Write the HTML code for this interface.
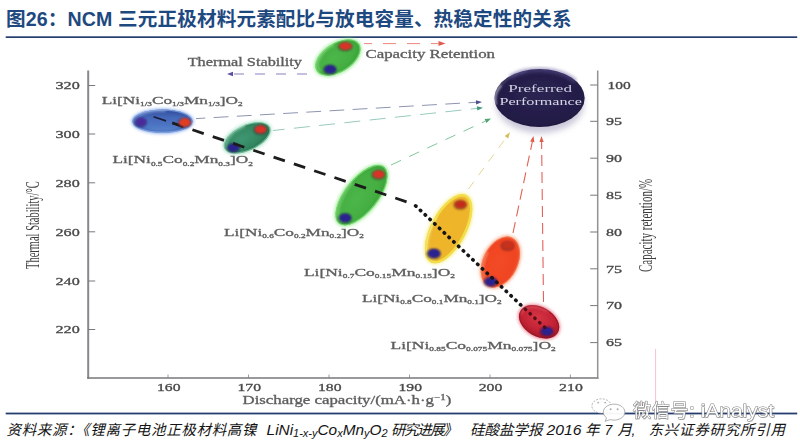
<!DOCTYPE html>
<html lang="zh"><head><meta charset="utf-8"><title>图26：NCM 三元正极材料元素配比与放电容量、热稳定性的关系</title>
<style>
html,body{margin:0;padding:0;background:#fff;}
body{width:800px;height:447px;overflow:hidden;font-family:"Liberation Sans",sans-serif;}
svg{display:block;}
.ser{font-family:"Liberation Serif",serif;}
.san{font-family:"Liberation Sans",sans-serif;}
</style></head><body>
<svg width="800" height="447" viewBox="0 0 800 447">
<defs>
<filter id="soft" x="-5%" y="-5%" width="110%" height="110%"><feGaussianBlur stdDeviation="0.65"/></filter>
<filter id="glow" x="-30%" y="-30%" width="160%" height="160%"><feGaussianBlur stdDeviation="1.7"/></filter>
<filter id="b05" x="-10%" y="-10%" width="120%" height="120%"><feGaussianBlur stdDeviation="0.35"/></filter>
<filter id="tb" x="-2%" y="-2%" width="104%" height="104%"><feGaussianBlur stdDeviation="0.45"/></filter>
<filter id="glow3" x="-30%" y="-40%" width="160%" height="180%"><feGaussianBlur stdDeviation="3.2"/></filter>
<filter id="b1" x="-30%" y="-30%" width="160%" height="160%"><feGaussianBlur stdDeviation="1"/></filter>
<linearGradient id="gBlue" x1="0" y1="0" x2="0" y2="1"><stop offset="0" stop-color="#34509e"/><stop offset="0.35" stop-color="#4468b8"/><stop offset="0.75" stop-color="#4f78c6"/><stop offset="1" stop-color="#6a94d8"/></linearGradient>
<radialGradient id="gDG" cx="40%" cy="45%" r="65%"><stop offset="0" stop-color="#3f9672"/><stop offset="0.6" stop-color="#338862"/><stop offset="1" stop-color="#27704e"/></radialGradient>
<radialGradient id="gG" cx="42%" cy="45%" r="65%"><stop offset="0" stop-color="#4cb648"/><stop offset="0.65" stop-color="#44ae42"/><stop offset="1" stop-color="#379e38"/></radialGradient>
<radialGradient id="gY" cx="45%" cy="45%" r="65%"><stop offset="0" stop-color="#f0b62a"/><stop offset="0.7" stop-color="#eeb42a"/><stop offset="1" stop-color="#ecc83c"/></radialGradient>
<radialGradient id="gO" cx="45%" cy="45%" r="65%"><stop offset="0" stop-color="#f24a26"/><stop offset="0.7" stop-color="#f04422"/><stop offset="1" stop-color="#ee5a34"/></radialGradient>
<radialGradient id="gR" cx="42%" cy="40%" r="65%"><stop offset="0" stop-color="#d43444"/><stop offset="0.6" stop-color="#c42434"/><stop offset="1" stop-color="#a01426"/></radialGradient>
<radialGradient id="gN" cx="50%" cy="45%" r="60%"><stop offset="0" stop-color="#2b2452"/><stop offset="0.8" stop-color="#231c47"/><stop offset="1" stop-color="#1b153a"/></radialGradient>
</defs>
<rect width="800" height="447" fill="#fff"/>

<text x="6" y="26" font-size="19.6" font-weight="bold" fill="#1e4980" textLength="565.5" style='font-family:"Liberation Sans","Noto Sans CJK SC",sans-serif'>图26：NCM 三元正极材料元素配比与放电容量、热稳定性的关系</text>
<rect x="5.7" y="36.3" width="791.5" height="1.7" fill="#263e6e"/>
<g filter="url(#soft)">
<path d="M88.2 70.5V378.8" fill="none" stroke="#88888c" stroke-width="2"/>
<path d="M87.2 378.1H598.5" fill="none" stroke="#77777b" stroke-width="1.5"/>
<path d="M597.7 70.5V378.8" fill="none" stroke="#929296" stroke-width="1.5"/>
<path d="M88.2 85.5h7" stroke="#79797d" stroke-width="1"/>
<path d="M88.2 134h7" stroke="#79797d" stroke-width="1"/>
<path d="M88.2 182.8h7" stroke="#79797d" stroke-width="1"/>
<path d="M88.2 231.8h7" stroke="#79797d" stroke-width="1"/>
<path d="M88.2 281h7" stroke="#79797d" stroke-width="1"/>
<path d="M88.2 329.5h7" stroke="#79797d" stroke-width="1"/>
<path d="M597.7 85h-7.5" stroke="#79797d" stroke-width="1"/>
<path d="M597.7 121.3h-7.5" stroke="#79797d" stroke-width="1"/>
<path d="M597.7 158.2h-7.5" stroke="#79797d" stroke-width="1"/>
<path d="M597.7 195.2h-7.5" stroke="#79797d" stroke-width="1"/>
<path d="M597.7 232h-7.5" stroke="#79797d" stroke-width="1"/>
<path d="M597.7 268.8h-7.5" stroke="#79797d" stroke-width="1"/>
<path d="M597.7 305.6h-7.5" stroke="#79797d" stroke-width="1"/>
<path d="M597.7 342.6h-7.5" stroke="#79797d" stroke-width="1"/>
<path d="M168 378.1v-3.6" stroke="#79797d" stroke-width="0.9" opacity="0.8"/>
<path d="M248.5 378.1v-3.6" stroke="#79797d" stroke-width="0.9" opacity="0.8"/>
<path d="M329 378.1v-3.6" stroke="#79797d" stroke-width="0.9" opacity="0.8"/>
<path d="M409.5 378.1v-3.6" stroke="#79797d" stroke-width="0.9" opacity="0.8"/>
<path d="M490 378.1v-3.6" stroke="#79797d" stroke-width="0.9" opacity="0.8"/>
<path d="M570.4 378.1v-3.6" stroke="#79797d" stroke-width="0.9" opacity="0.8"/>
<g filter="url(#tb)" style='font-family:"Liberation Serif",serif'>
<g fill="#484848" stroke="#484848" stroke-width="0.3" font-size="11">
<text x="55.5" y="89.2" textLength="24.2" lengthAdjust="spacingAndGlyphs">320</text>
<text x="55.5" y="137.7" textLength="24.2" lengthAdjust="spacingAndGlyphs">300</text>
<text x="55.5" y="186.5" textLength="24.2" lengthAdjust="spacingAndGlyphs">280</text>
<text x="55.5" y="235.5" textLength="24.2" lengthAdjust="spacingAndGlyphs">260</text>
<text x="55.5" y="284.7" textLength="24.2" lengthAdjust="spacingAndGlyphs">240</text>
<text x="55.5" y="333.2" textLength="24.2" lengthAdjust="spacingAndGlyphs">220</text>
<text x="607.6" y="88.7" textLength="23.2" lengthAdjust="spacingAndGlyphs">100</text>
<text x="606" y="125" textLength="16" lengthAdjust="spacingAndGlyphs">95</text>
<text x="606" y="161.9" textLength="16" lengthAdjust="spacingAndGlyphs">90</text>
<text x="606" y="198.9" textLength="16" lengthAdjust="spacingAndGlyphs">85</text>
<text x="606" y="235.7" textLength="16" lengthAdjust="spacingAndGlyphs">80</text>
<text x="606" y="272.5" textLength="16" lengthAdjust="spacingAndGlyphs">75</text>
<text x="606" y="309.3" textLength="16" lengthAdjust="spacingAndGlyphs">70</text>
<text x="606" y="346.3" textLength="16" lengthAdjust="spacingAndGlyphs">65</text>
<text x="157" y="390.6" textLength="23.5" lengthAdjust="spacingAndGlyphs">160</text>
<text x="237.5" y="390.6" textLength="23.5" lengthAdjust="spacingAndGlyphs">170</text>
<text x="318" y="390.6" textLength="23.5" lengthAdjust="spacingAndGlyphs">180</text>
<text x="398.5" y="390.6" textLength="23.5" lengthAdjust="spacingAndGlyphs">190</text>
<text x="478.7" y="390.6" textLength="23.7" lengthAdjust="spacingAndGlyphs">200</text>
<text x="559.1" y="390.6" textLength="23.7" lengthAdjust="spacingAndGlyphs">210</text>
</g>
<text x="242.5" y="403.8" font-size="11.5" fill="#5e5e5e" stroke="#5e5e5e" stroke-width="0.3" textLength="208.8" lengthAdjust="spacingAndGlyphs">Discharge capacity/(mA·h·g<tspan dy="-4" font-size="7.5">−1</tspan><tspan dy="4">)</tspan></text>
<text transform="translate(38.8 224.9) rotate(-90) scale(0.8 1.4)" x="-55" y="0" font-size="13.4" fill="#3e3e3e" textLength="109.4" lengthAdjust="spacingAndGlyphs">Thermal Stability/°C</text>
<text transform="translate(651.7 225.5) rotate(-90) scale(0.822 1.4)" x="-56.6" y="0" font-size="13.4" fill="#3e3e3e" textLength="113.3" lengthAdjust="spacingAndGlyphs">Capacity retention/%</text>
<g fill="#5e5e5e" stroke="#5e5e5e" stroke-width="0.3">
<text x="187.7" y="66" font-size="11.5" textLength="114.3" lengthAdjust="spacingAndGlyphs">Thermal Stability</text>
<text x="365.5" y="58" font-size="11.5" textLength="129.5" lengthAdjust="spacingAndGlyphs">Capacity Retention</text>
<text x="101.7" y="103.6" font-size="11.2" textLength="141" lengthAdjust="spacingAndGlyphs">Li[Ni<tspan dy="2.5" font-size="6">1/3</tspan><tspan dy="-2.5">Co</tspan><tspan dy="2.5" font-size="6">1/3</tspan><tspan dy="-2.5">Mn</tspan><tspan dy="2.5" font-size="6">1/3</tspan><tspan dy="-2.5">]O</tspan><tspan dy="2.5" font-size="6">2</tspan></text>
<text x="112.5" y="163" font-size="11.2" textLength="140.3" lengthAdjust="spacingAndGlyphs">Li[Ni<tspan dy="2.5" font-size="6">0.5</tspan><tspan dy="-2.5">Co</tspan><tspan dy="2.5" font-size="6">0.2</tspan><tspan dy="-2.5">Mn</tspan><tspan dy="2.5" font-size="6">0.3</tspan><tspan dy="-2.5">]O</tspan><tspan dy="2.5" font-size="6">2</tspan></text>
<text x="223.9" y="235.8" font-size="11.2" textLength="140.1" lengthAdjust="spacingAndGlyphs">Li[Ni<tspan dy="2.5" font-size="6">0.6</tspan><tspan dy="-2.5">Co</tspan><tspan dy="2.5" font-size="6">0.2</tspan><tspan dy="-2.5">Mn</tspan><tspan dy="2.5" font-size="6">0.2</tspan><tspan dy="-2.5">]O</tspan><tspan dy="2.5" font-size="6">2</tspan></text>
<text x="303.9" y="275.5" font-size="11.2" textLength="151.1" lengthAdjust="spacingAndGlyphs">Li[Ni<tspan dy="2.5" font-size="6">0.7</tspan><tspan dy="-2.5">Co</tspan><tspan dy="2.5" font-size="6">0.15</tspan><tspan dy="-2.5">Mn</tspan><tspan dy="2.5" font-size="6">0.15</tspan><tspan dy="-2.5">]O</tspan><tspan dy="2.5" font-size="6">2</tspan></text>
<text x="361.9" y="301.5" font-size="11.2" textLength="139.8" lengthAdjust="spacingAndGlyphs">Li[Ni<tspan dy="2.5" font-size="6">0.8</tspan><tspan dy="-2.5">Co</tspan><tspan dy="2.5" font-size="6">0.1</tspan><tspan dy="-2.5">Mn</tspan><tspan dy="2.5" font-size="6">0.1</tspan><tspan dy="-2.5">]O</tspan><tspan dy="2.5" font-size="6">2</tspan></text>
<text x="390.5" y="348.8" font-size="11.2" textLength="165.2" lengthAdjust="spacingAndGlyphs">Li[Ni<tspan dy="2.5" font-size="6">0.85</tspan><tspan dy="-2.5">Co</tspan><tspan dy="2.5" font-size="6">0.075</tspan><tspan dy="-2.5">Mn</tspan><tspan dy="2.5" font-size="6">0.075</tspan><tspan dy="-2.5">]O</tspan><tspan dy="2.5" font-size="6">2</tspan></text>
</g>
</g>
<g opacity="0.9"><path d="M196.0 118.6L476.0 102.3" stroke="#8088a8" stroke-width="1.0" stroke-dasharray="14.8 8.4" stroke-dashoffset="5.5" fill="none"/><path d="M482.0 102.0L476.1 104.5L475.9 100.2Z" fill="#3c3c80"/></g>
<g opacity="0.9"><path d="M273.0 130.5L477.0 108.4" stroke="#8cc4b6" stroke-width="1.0" stroke-dasharray="16 9.4" stroke-dashoffset="4.4" fill="none"/><path d="M483.0 107.8L477.3 110.6L476.8 106.3Z" fill="#2c8c6c"/></g>
<g opacity="0.9"><path d="M391.0 165.0L485.6 121.0" stroke="#62b884" stroke-width="0.9" stroke-dasharray="11 9" stroke-dashoffset="0" fill="none"/><path d="M491.0 118.5L486.5 123.0L484.6 119.1Z" fill="#3a9c5e"/></g>
<g opacity="0.9"><path d="M468.5 189.0L506.5 137.1" stroke="#e2d288" stroke-width="1.0" stroke-dasharray="9 8" stroke-dashoffset="0" fill="none"/><path d="M510.0 132.3L508.2 138.4L504.7 135.9Z" fill="#d2b648"/></g>
<g opacity="0.9"><path d="M513.0 233.0L532.3 141.9" stroke="#e0503e" stroke-width="1.1" stroke-dasharray="11 6" stroke-dashoffset="0" fill="none"/><path d="M533.5 136.0L534.4 142.3L530.1 141.4Z" fill="#e04c36"/></g>
<g opacity="0.9"><path d="M543.5 302.0L541.6 142.0" stroke="#e0504a" stroke-width="1.1" stroke-dasharray="11 6" stroke-dashoffset="0" fill="none"/><path d="M541.5 136.0L543.7 142.0L539.4 142.0Z" fill="#e04c3c"/></g>
<g opacity="0.9"><path d="M307.0 74.0L233.0 74.0" stroke="#7a72b6" stroke-width="1.0" stroke-dasharray="10 11" stroke-dashoffset="0" fill="none"/><path d="M227.0 74.0L233.0 71.8L233.0 76.2Z" fill="#4a3a98"/></g>
<g opacity="0.9"><path d="M364.0 43.6L438.5 43.6" stroke="#e87a70" stroke-width="1.0" stroke-dasharray="13 11" stroke-dashoffset="5" fill="none"/><path d="M445.5 43.6L438.5 46.1L438.5 41.1Z" fill="#de4a3c"/></g>
<g transform="translate(162.5 121.2) rotate(0)"><ellipse rx="31.4" ry="13.0" fill="#7da4ea" opacity="0.65" filter="url(#glow)"/><ellipse rx="30" ry="11.6" fill="url(#gBlue)"/><ellipse rx="28.4" ry="10.0" fill="none" stroke="#2c4898" stroke-width="1.6" opacity="0.55" filter="url(#b1)"/><ellipse rx="29.5" ry="11.1" fill="none" stroke="#8fb4f0" stroke-width="1.2" opacity="0.6"/><path d="M-27.0 1.2A27.9 10.4 0 0 1 3.0 -10.4" fill="none" stroke="#b4cef6" stroke-width="1.3" opacity="0.7" stroke-linecap="round" filter="url(#b1)"/></g>
<g transform="translate(247.1 137.8) rotate(-25)"><ellipse rx="26.4" ry="14.0" fill="#8ad8b2" opacity="0.65" filter="url(#glow)"/><ellipse rx="25" ry="12.6" fill="url(#gDG)"/><ellipse rx="24.5" ry="12.1" fill="none" stroke="#96dcba" stroke-width="1.2" opacity="0.6"/><path d="M-22.5 1.3A23.2 11.3 0 0 1 2.5 -11.3" fill="none" stroke="#c0ead4" stroke-width="1.3" opacity="0.7" stroke-linecap="round" filter="url(#b1)"/></g>
<g transform="translate(361.5 195.2) rotate(-51.5)"><ellipse rx="37.6" ry="18.0" fill="#78e470" opacity="0.65" filter="url(#glow)"/><ellipse rx="36.2" ry="16.6" fill="url(#gG)"/><ellipse rx="35.7" ry="16.1" fill="none" stroke="#84e67a" stroke-width="1.2" opacity="0.65"/><path d="M-32.6 1.7A33.7 14.9 0 0 1 3.6 -14.9" fill="none" stroke="#b0f2a6" stroke-width="1.3" opacity="0.7" stroke-linecap="round" filter="url(#b1)"/></g>
<g transform="translate(448.6 228.7) rotate(-62)"><ellipse rx="39.3" ry="18.9" fill="#f4e660" opacity="0.65" filter="url(#glow)"/><ellipse rx="37.9" ry="17.5" fill="url(#gY)"/><ellipse rx="36.8" ry="16.400000000000002" fill="none" stroke="#f2e24c" stroke-width="2.4" opacity="0.9"/><path d="M-34.1 1.8A35.2 15.8 0 0 1 3.8 -15.8" fill="none" stroke="#faf2a8" stroke-width="1.3" opacity="0.7" stroke-linecap="round" filter="url(#b1)"/></g>
<g transform="translate(500.4 262) rotate(-64)"><ellipse rx="28.4" ry="18.799999999999997" fill="#f88e62" opacity="0.65" filter="url(#glow)"/><ellipse rx="27" ry="17.4" fill="url(#gO)"/><ellipse rx="26.5" ry="16.9" fill="none" stroke="#f89a72" stroke-width="1.2" opacity="0.5"/><path d="M-24.3 1.7A25.1 15.7 0 0 1 2.7 -15.7" fill="none" stroke="#fcc0a0" stroke-width="1.3" opacity="0.7" stroke-linecap="round" filter="url(#b1)"/></g>
<g transform="translate(539.1 321.8) rotate(30)"><ellipse rx="23.0" ry="16.0" fill="#e25a6a" opacity="0.65" filter="url(#glow)"/><ellipse rx="21.6" ry="14.6" fill="url(#gR)"/><ellipse rx="21.1" ry="14.1" fill="none" stroke="#8a0e20" stroke-width="1.2" opacity="0.55"/><path d="M-19.4 1.5A20.1 13.1 0 0 1 2.2 -13.1" fill="none" stroke="#ea7080" stroke-width="1.3" opacity="0.7" stroke-linecap="round" filter="url(#b1)"/></g>
<g transform="translate(337.9 57.5) rotate(-32)"><ellipse rx="26.4" ry="15.8" fill="#78e470" opacity="0.65" filter="url(#glow)"/><ellipse rx="25" ry="14.4" fill="url(#gG)"/><ellipse rx="24.5" ry="13.9" fill="none" stroke="#84e67a" stroke-width="1.2" opacity="0.65"/><path d="M-22.5 1.4A23.2 13.0 0 0 1 2.5 -13.0" fill="none" stroke="#b8f6ae" stroke-width="1.3" opacity="0.7" stroke-linecap="round" filter="url(#b1)"/></g>
<ellipse cx="540" cy="104" rx="44" ry="29" fill="#9c98b8" opacity="0.55" filter="url(#glow3)"/>
<ellipse cx="539.5" cy="98" rx="45.2" ry="29" fill="url(#gN)"/>
<path d="M495.6 104A44 28 0 0 1 500.5 86" fill="none" stroke="#eeecfa" stroke-width="2.2" opacity="0.65" stroke-linecap="round" filter="url(#b1)"/>
<path d="M500.5 86A44 28 0 0 1 526 71" fill="none" stroke="#b8b4d8" stroke-width="1.5" opacity="0.3" stroke-linecap="round" filter="url(#b1)"/>
<path d="M512 76A44 27.5 0 0 1 574 80" fill="none" stroke="#5e5496" stroke-width="5" opacity="0.45" stroke-linecap="round" filter="url(#glow)"/>
<g filter="url(#b05)" style='font-family:"Liberation Serif",serif'>
<text x="508.3" y="92.4" font-size="11.4" fill="#cdcde0" textLength="63.7" lengthAdjust="spacingAndGlyphs">Preferred</text>
<text x="499.4" y="105.4" font-size="11.4" fill="#d6d6e6" textLength="82.6" lengthAdjust="spacingAndGlyphs">Performance</text>
</g>
<ellipse cx="140.5" cy="122.7" rx="6.2" ry="4.7" fill="#1c1230" opacity="0.4" filter="url(#b1)"/><ellipse cx="141" cy="122" rx="5.5" ry="4.2" fill="#4a2c9c" filter="url(#b1)"/>
<ellipse cx="260.1" cy="130.1" rx="6.7" ry="4.7" fill="#1c1230" opacity="0.4" filter="url(#b1)"/><ellipse cx="260.6" cy="129.4" rx="6" ry="4.2" fill="#da3028" filter="url(#b1)"/>
<ellipse cx="233.1" cy="148.29999999999998" rx="6.5" ry="4.7" fill="#1c1230" opacity="0.4" filter="url(#b1)"/><ellipse cx="233.6" cy="147.6" rx="5.8" ry="4.2" fill="#2b2090" filter="url(#b1)"/>
<ellipse cx="378.1" cy="175.1" rx="6.7" ry="4.7" fill="#1c1230" opacity="0.4" filter="url(#b1)"/><ellipse cx="378.6" cy="174.4" rx="6" ry="4.2" fill="#da3028" filter="url(#b1)"/>
<ellipse cx="344.8" cy="218.5" rx="6.7" ry="4.9" fill="#1c1230" opacity="0.4" filter="url(#b1)"/><ellipse cx="345.3" cy="217.8" rx="6" ry="4.4" fill="#2b2090" filter="url(#b1)"/>
<ellipse cx="460.1" cy="205.1" rx="6.7" ry="4.7" fill="#1c1230" opacity="0.4" filter="url(#b1)"/><ellipse cx="460.6" cy="204.4" rx="6" ry="4.2" fill="#c22a1e" filter="url(#b1)"/>
<ellipse cx="433.5" cy="254.1" rx="7.1000000000000005" ry="5.1" fill="#1c1230" opacity="0.4" filter="url(#b1)"/><ellipse cx="434" cy="253.4" rx="6.4" ry="4.6" fill="#2b2090" filter="url(#b1)"/>
<ellipse cx="507.5" cy="246.1" rx="6.7" ry="4.7" fill="#1c1230" opacity="0.4" filter="url(#b1)"/><ellipse cx="508" cy="245.4" rx="6" ry="4.2" fill="#c8301c" filter="url(#b1)"/>
<ellipse cx="490.3" cy="282.3" rx="6.9" ry="4.9" fill="#1c1230" opacity="0.4" filter="url(#b1)"/><ellipse cx="490.8" cy="281.6" rx="6.2" ry="4.4" fill="#2b2090" filter="url(#b1)"/>
<ellipse cx="546.5" cy="331.9" rx="6.7" ry="4.7" fill="#1c1230" opacity="0.4" filter="url(#b1)"/><ellipse cx="547" cy="331.2" rx="6" ry="4.2" fill="#2b2090" filter="url(#b1)"/>
<ellipse cx="345.0" cy="46.900000000000006" rx="7.2" ry="4.4" fill="#1c1230" opacity="0.4" filter="url(#b1)"/><ellipse cx="345.5" cy="46.2" rx="6.5" ry="3.9" fill="#da3028" filter="url(#b1)"/>
<ellipse cx="329.7" cy="70.0" rx="6.7" ry="4.8" fill="#1c1230" opacity="0.4" filter="url(#b1)"/><ellipse cx="330.2" cy="69.3" rx="6" ry="4.3" fill="#2b2090" filter="url(#b1)"/>
<path d="M153.6 116.7L166 120.9" stroke="#1a1e3c" stroke-width="1.7" fill="none"/>
<path d="M153.6 116.7L414 204.3" stroke="#1c1c1c" stroke-width="2.8" stroke-dasharray="0 19.6 11.9 9.5 11.9 9.5 11.9 9.5 11.9 9.5 11.9 9.5 11.9 9.5 11.9 9.5 11.9 9.5 11.9 9.5 11.9 9.5 11.9 9.5 11.9 9.5" fill="none"/>
<path d="M415.6 205.8L524.5 308.4" stroke="#181818" stroke-width="3.6" stroke-linecap="round" stroke-dasharray="0.5 6.05" fill="none"/>
<path d="M524.5 308.4L548.5 331" stroke="#3a060e" stroke-width="3.4" stroke-linecap="round" stroke-dasharray="0.5 6.05" stroke-dashoffset="5.5" opacity="0.8" fill="none"/>
<ellipse cx="184.3" cy="123.2" rx="6.7" ry="4.9" fill="#1c1230" opacity="0.4" filter="url(#b1)"/><ellipse cx="184.8" cy="122.5" rx="6" ry="4.4" fill="#e23c22" filter="url(#b1)"/>
</g>
<path d="M655.6 349V411.5" stroke="#f6b8c8" stroke-width="0.9"/>
<rect x="5.7" y="412.6" width="791.5" height="1.8" fill="#263e6e"/>
<g fill="#141414" font-style="italic" font-size="14.5" style='font-family:"Liberation Sans","Noto Sans CJK SC",sans-serif'>
<text x="6.5" y="435" textLength="250">资料来源：《锂离子电池正极材料高镍</text>
<text x="266.6" y="434.7" font-size="14" textLength="121" lengthAdjust="spacingAndGlyphs">LiNi<tspan dy="2.6" font-size="10">1-x-y</tspan><tspan dy="-2.6">Co</tspan><tspan dy="2.6" font-size="10">x</tspan><tspan dy="-2.6">Mn</tspan><tspan dy="2.6" font-size="10">y</tspan><tspan dy="-2.6">O</tspan><tspan dy="2.6" font-size="10">2</tspan></text>
<text x="391" y="435" textLength="66.5">研究进展》</text>
<text x="470" y="435" textLength="72.5">硅酸盐学报</text>
<text x="546.5" y="434.7" font-size="14" textLength="35" lengthAdjust="spacingAndGlyphs">2016</text>
<text x="585" y="435">年</text>
<text x="604.5" y="434.7" font-size="14">7</text>
<text x="617.5" y="435">月</text>
<text x="631.5" y="434.7" font-size="14">,</text>
<text x="648.5" y="435" textLength="136.5">东兴证券研究所引用</text>
</g>
<g opacity="0.96">
<g fill="#fff" stroke="#9a9a9a" stroke-width="0.8"><ellipse cx="601.5" cy="406" rx="9.6" ry="7.2" stroke-dasharray="2 1.4"/><path d="M605 421.3l1.6-3.4a10.8 8 0 1 1 3.6 1.7z"/></g>
<g fill="#a8a8a8"><circle cx="598.2" cy="402.6" r="0.9"/><circle cx="605.2" cy="402.6" r="0.9"/><circle cx="610.6" cy="409.3" r="1"/><circle cx="617.6" cy="409.3" r="1"/></g>
<text x="633" y="417.3" transform="translate(0.7 0.7)" font-size="18" fill="#666" opacity="0.45" textLength="55.5" style='font-family:"Liberation Sans","Noto Sans CJK SC",sans-serif'>微信号</text>
<text x="633" y="417.3" font-size="18" fill="#fff" stroke="#7c7c7c" stroke-width="1" paint-order="stroke" textLength="55.5" style='font-family:"Liberation Sans","Noto Sans CJK SC",sans-serif'>微信号</text>
<text x="700.8" y="417.2" transform="translate(0.6 0.7)" font-size="18.7" fill="#666" opacity="0.45" textLength="73.2" lengthAdjust="spacingAndGlyphs" style='font-family:"Liberation Sans",sans-serif'>iAnalyst</text>
<text x="689" y="417.2" font-size="18.7" fill="#fff" stroke="#7c7c7c" stroke-width="1" paint-order="stroke" textLength="85" lengthAdjust="spacingAndGlyphs" style='font-family:"Liberation Sans",sans-serif'>: iAnalyst</text>
</g>
</svg></body></html>
